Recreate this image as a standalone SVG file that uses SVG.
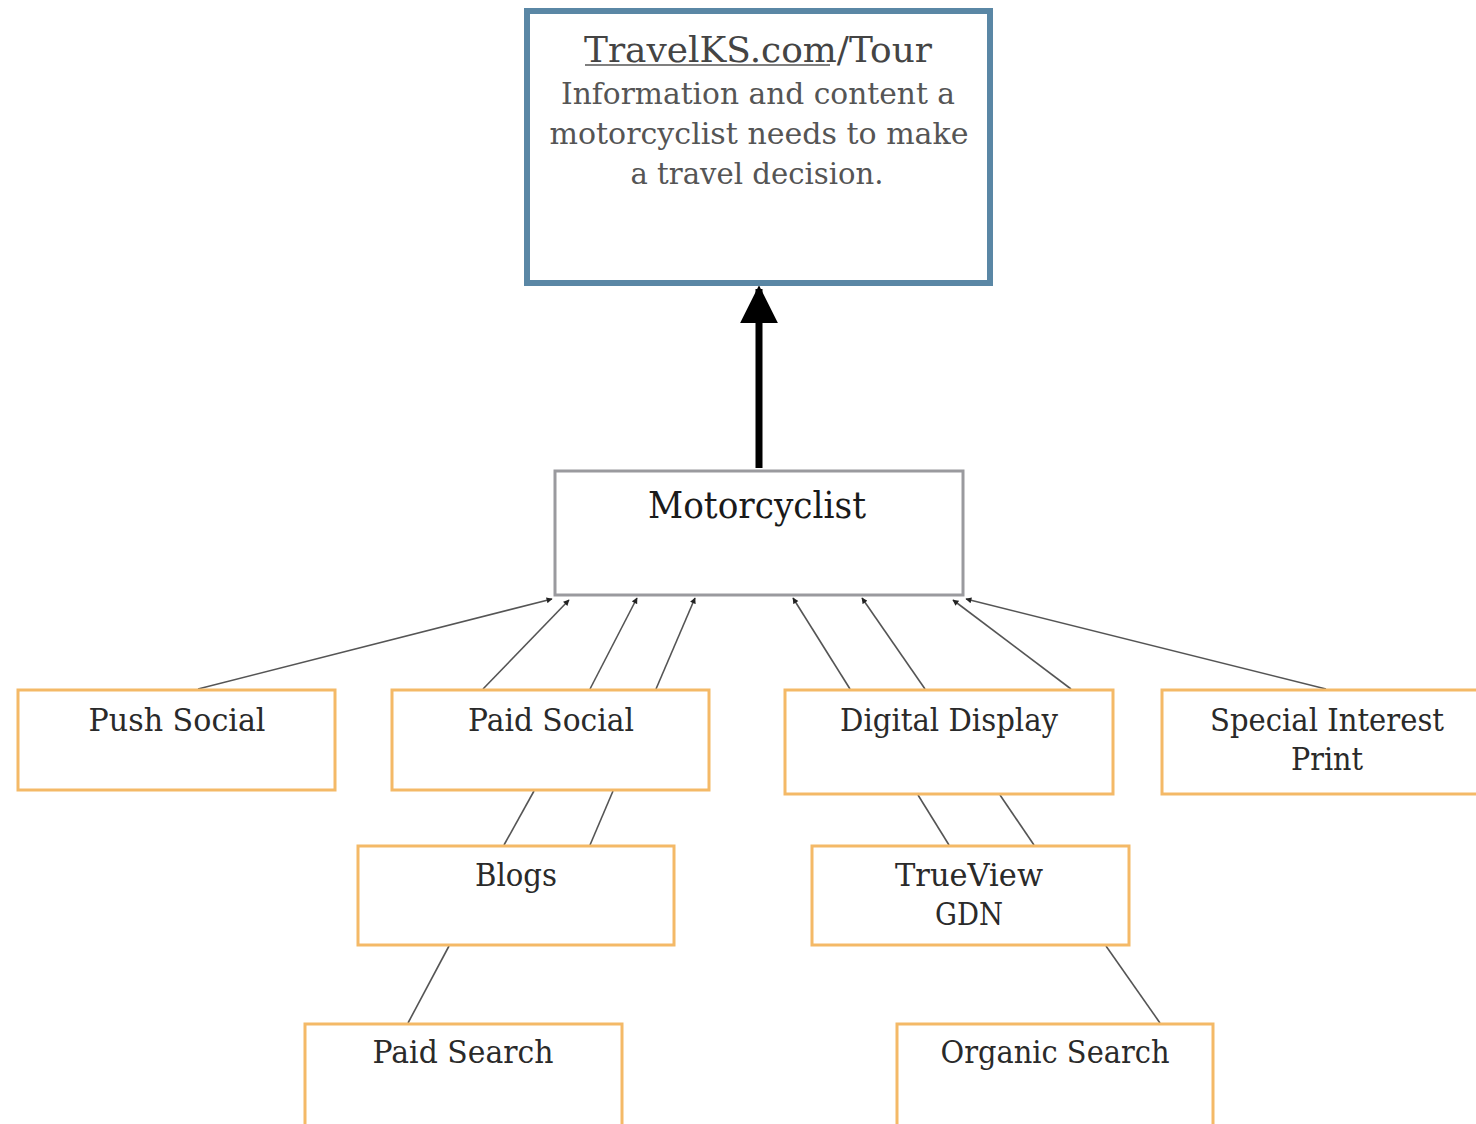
<svg xmlns="http://www.w3.org/2000/svg" width="1476" height="1124" viewBox="0 0 1476 1124">
<style>
text{font-family:"DejaVu Serif","Liberation Serif",serif;text-anchor:middle}
.lbl{font-size:32px;fill:#2a2a2a}
.top{font-size:30px;fill:#555}
.box{fill:#fff;stroke:#f4b967;stroke-width:3}
.conn{stroke:#555;stroke-width:1.6;fill:none}
</style>
<defs>
<marker id="sm" viewBox="0 0 10 10" refX="9" refY="5" markerWidth="7" markerHeight="6" orient="auto" markerUnits="userSpaceOnUse"><path d="M0,0 L10,5 L0,10 z" fill="#222"/></marker>
<marker id="big" viewBox="0 0 10 10" refX="9" refY="5" markerWidth="38" markerHeight="38" orient="auto" markerUnits="userSpaceOnUse"><path d="M0,0 L10,5 L0,10 z" fill="#000"/></marker>
</defs>
<rect width="1476" height="1124" fill="#fff"/>
<g id="connectors">
<line x1="759" y1="468" x2="759" y2="289" stroke="#000" stroke-width="7" marker-end="url(#big)"/>
<line class="conn" x1="198" y1="689" x2="552" y2="599" marker-end="url(#sm)"/>
<line class="conn" x1="483" y1="689" x2="569" y2="600" marker-end="url(#sm)"/>
<line class="conn" x1="590" y1="689" x2="637" y2="598" marker-end="url(#sm)"/>
<line class="conn" x1="656" y1="689" x2="695" y2="598" marker-end="url(#sm)"/>
<line class="conn" x1="850" y1="689" x2="793" y2="598" marker-end="url(#sm)"/>
<line class="conn" x1="925" y1="689" x2="862" y2="598" marker-end="url(#sm)"/>
<line class="conn" x1="1071" y1="689" x2="953" y2="600" marker-end="url(#sm)"/>
<line class="conn" x1="1326" y1="689" x2="966" y2="599" marker-end="url(#sm)"/>
<line class="conn" x1="534" y1="791" x2="504" y2="845"/>
<line class="conn" x1="613" y1="791" x2="590" y2="845"/>
<line class="conn" x1="449" y1="946" x2="408" y2="1023"/>
<line class="conn" x1="918" y1="795" x2="949" y2="845"/>
<line class="conn" x1="1000" y1="795" x2="1034" y2="845"/>
<line class="conn" x1="1106" y1="946" x2="1160" y2="1023"/>
</g>
<g id="travelks">
<rect x="527" y="11" width="463" height="272" fill="#fff" stroke="#5a87a5" stroke-width="6"/>
<text x="758" y="62" font-size="36" fill="#444" textLength="348" lengthAdjust="spacingAndGlyphs">TravelKS.com/Tour</text>
<line x1="585" y1="65" x2="830" y2="65" stroke="#555" stroke-width="1.5"/>
<text class="top" x="758" y="104" textLength="394" lengthAdjust="spacingAndGlyphs">Information and content a</text>
<text class="top" x="759" y="144" textLength="419" lengthAdjust="spacingAndGlyphs">motorcyclist needs to make</text>
<text class="top" x="757" y="184" textLength="253" lengthAdjust="spacingAndGlyphs">a travel decision.</text>
</g>
<g id="motorcyclist">
<rect x="555" y="471" width="408" height="124" fill="#fff" stroke="#9a9a9e" stroke-width="3"/>
<text x="757" y="518" font-size="38" fill="#1a1a1a" textLength="218" lengthAdjust="spacingAndGlyphs">Motorcyclist</text>
</g>
<g id="push-social">
<rect class="box" x="18" y="690" width="317" height="100"/>
<text class="lbl" x="177" y="731" textLength="177" lengthAdjust="spacingAndGlyphs">Push Social</text>
</g>
<g id="paid-social">
<rect class="box" x="392" y="690" width="317" height="100"/>
<text class="lbl" x="551" y="731" textLength="166" lengthAdjust="spacingAndGlyphs">Paid Social</text>
</g>
<g id="digital-display">
<rect class="box" x="785" y="690" width="328" height="104"/>
<text class="lbl" x="949" y="731" textLength="218" lengthAdjust="spacingAndGlyphs">Digital Display</text>
</g>
<g id="special-interest-print">
<rect class="box" x="1162" y="690" width="320" height="104"/>
<text class="lbl" x="1327" y="731" textLength="234" lengthAdjust="spacingAndGlyphs">Special Interest</text>
<text class="lbl" x="1327" y="770" textLength="72" lengthAdjust="spacingAndGlyphs">Print</text>
</g>
<g id="blogs">
<rect class="box" x="358" y="846" width="316" height="99"/>
<text class="lbl" x="516" y="886" textLength="82" lengthAdjust="spacingAndGlyphs">Blogs</text>
</g>
<g id="trueview-gdn">
<rect class="box" x="812" y="846" width="317" height="99"/>
<text class="lbl" x="969" y="886" textLength="148" lengthAdjust="spacingAndGlyphs">TrueView</text>
<text class="lbl" x="969" y="925" textLength="68" lengthAdjust="spacingAndGlyphs">GDN</text>
</g>
<g id="paid-search">
<rect class="box" x="305" y="1024" width="317" height="110"/>
<text class="lbl" x="463" y="1063" textLength="181" lengthAdjust="spacingAndGlyphs">Paid Search</text>
</g>
<g id="organic-search">
<rect class="box" x="897" y="1024" width="316" height="110"/>
<text class="lbl" x="1055" y="1063" textLength="229" lengthAdjust="spacingAndGlyphs">Organic Search</text>
</g>
</svg>
